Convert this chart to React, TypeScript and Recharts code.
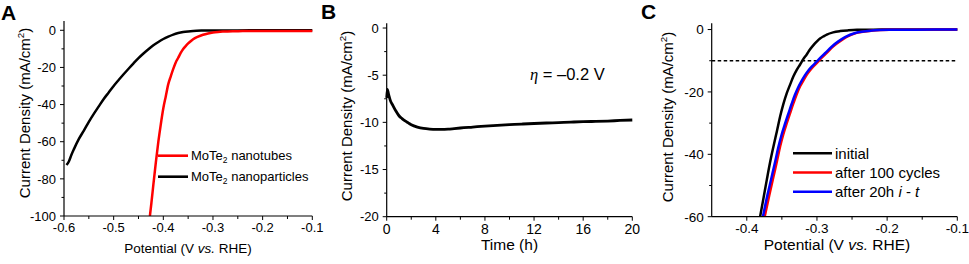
import { LineChart, Line, XAxis, YAxis, ReferenceLine } from "recharts";

const FONT = "'Liberation Sans', Arial, Helvetica, sans-serif";

// --- A: polarization curves, MoTe2 nanotubes vs nanoparticles
const tubeV = [-0.427, -0.424, -0.42, -0.415, -0.41, -0.405, -0.4, -0.395, -0.39, -0.385, -0.38, -0.375, -0.37, -0.365, -0.36, -0.355, -0.35, -0.345, -0.34, -0.33, -0.32, -0.31, -0.3, -0.29, -0.28, -0.26, -0.24, -0.2, -0.15, -0.1];
const tubeJ = [-100, -93, -83, -71, -60, -50.5, -42, -35.5, -29, -24.8, -20.8, -17.3, -14.8, -12.2, -10.1, -8.5, -7.1, -5.9, -4.8, -3.4, -2.4, -1.7, -1.2, -0.9, -0.7, -0.5, -0.45, -0.4, -0.4, -0.4];
const particleV = [-0.595, -0.59, -0.585, -0.58, -0.57, -0.56, -0.55, -0.54, -0.53, -0.52, -0.51, -0.5, -0.49, -0.48, -0.47, -0.46, -0.45, -0.44, -0.43, -0.42, -0.41, -0.4, -0.39, -0.38, -0.37, -0.36, -0.35, -0.34, -0.32, -0.3, -0.25, -0.2, -0.15, -0.1];
const particleJ = [-72.5, -70.5, -67, -64, -58.5, -54, -49.3, -45, -41, -37, -33.5, -30, -26.8, -23.7, -20.7, -17.8, -15, -12.5, -10.2, -8.1, -6.3, -4.7, -3.4, -2.3, -1.5, -0.95, -0.6, -0.35, -0.15, -0.08, -0.05, -0.04, -0.03, -0.03];
const potTicksA = [-0.6, -0.5, -0.4, -0.3, -0.2, -0.1];
const potMinorA = [-0.55, -0.45, -0.35, -0.25, -0.15];
const curTicksA = [-100, -80, -60, -40, -20, 0];
const curMinorA = [-90, -70, -50, -30, -10];

// --- B: chronoamperometry at -0.2 V
const timeH = [0, 0.05, 0.15, 0.3, 0.5, 0.75, 1, 1.25, 1.5, 1.75, 2, 2.5, 3, 3.5, 4, 4.5, 5, 5.5, 6, 7, 8, 9, 10, 11, 12, 13, 14, 15, 16, 17, 18, 19, 20];
const stabilityJ = [-7.4, -6.5, -7.0, -7.7, -8.2, -8.8, -9.3, -9.6, -9.85, -10.05, -10.25, -10.5, -10.65, -10.72, -10.75, -10.75, -10.72, -10.66, -10.6, -10.5, -10.4, -10.32, -10.25, -10.18, -10.12, -10.07, -10.02, -9.97, -9.93, -9.9, -9.86, -9.8, -9.75];
const timeTicks = [0, 4, 8, 12, 16, 20];
const timeMinor = [2, 6, 10, 14, 18];
const curTicksB = [-20, -15, -10, -5, 0];
const curMinorB = [-17.5, -12.5, -7.5, -2.5];

// --- C: durability
const initialV = [-0.381, -0.376, -0.3715, -0.367, -0.362, -0.357, -0.3525, -0.348, -0.343, -0.338, -0.3335, -0.329, -0.324, -0.3195, -0.3146, -0.31, -0.305, -0.3, -0.2956, -0.29, -0.286, -0.277, -0.267, -0.255, -0.243, -0.22, -0.19, -0.15, -0.1];
const initialJ = [-60, -53.8, -48.2, -42.8, -37.5, -32.5, -27.9, -24, -20.4, -17.5, -15, -13, -11.2, -9.5, -8, -6.4, -5, -3.8, -2.9, -2.1, -1.6, -0.9, -0.5, -0.25, -0.1, -0.03, 0, 0, 0];
const cyclesV = [-0.3745, -0.368, -0.362, -0.357, -0.3525, -0.348, -0.343, -0.338, -0.3335, -0.329, -0.324, -0.319, -0.3146, -0.31, -0.305, -0.3, -0.2956, -0.286, -0.2767, -0.267, -0.2577, -0.2434, -0.2197, -0.196, -0.16, -0.1];
const cyclesJ = [-60, -53.2, -47.2, -42.2, -37.5, -33.6, -30, -26.6, -23.6, -20.8, -18.2, -16.2, -14.5, -13.1, -11.8, -10.7, -9.6, -7.5, -5.4, -3.75, -2.4, -1.07, -0.32, -0.1, -0.03, 0];
const itV = [-0.377, -0.3705, -0.3645, -0.3595, -0.355, -0.3505, -0.3455, -0.3405, -0.336, -0.3315, -0.3265, -0.3215, -0.317, -0.3125, -0.3075, -0.3025, -0.298, -0.2885, -0.279, -0.2695, -0.26, -0.2455, -0.2215, -0.197, -0.16, -0.1];
const itJ = [-60, -53, -47.2, -42.3, -37.7, -33.8, -30.2, -26.8, -23.8, -21, -18.4, -16.3, -14.6, -13.2, -11.9, -10.8, -9.7, -7.6, -5.5, -3.8, -2.45, -1.1, -0.33, -0.1, -0.03, 0];
const potTicksC = [-0.4, -0.3, -0.2, -0.1];
const potMinorC = [-0.35, -0.25, -0.15];
const curTicksC = [-60, -40, -20, 0];
const curMinorC = [-50, -30, -10];

const pairs = (xs: number[], ys: number[]) => xs.map((x, i) => ({ x, y: ys[i] }));

const makeTick = (side: "left" | "bottom", major: number[], fontSize: number) =>
  (props: any) => {
    const { x, y, payload } = props;
    const v = payload.value;
    const isMajor = major.some((m) => Math.abs(m - v) < 1e-9);
    if (side === "bottom") {
      return (
        <g>
          <line x1={x} x2={x} y1={y} y2={y + (isMajor ? 4 : 3)} stroke="#000" />
          {isMajor && (
            <text x={x} y={y + 7} dy="0.72em" textAnchor="middle" fontSize={fontSize} fontFamily={FONT} fill="#000">
              {String(v)}
            </text>
          )}
        </g>
      );
    }
    return (
      <g>
        <line x1={x} x2={x - (isMajor ? 4 : 2.5)} y1={y} y2={y} stroke="#000" />
        {isMajor && (
          <text x={x - 8} y={y} dy="0.36em" textAnchor="end" fontSize={fontSize} fontFamily={FONT} fill="#000">
            {String(v)}
          </text>
        )}
      </g>
    );
  };

const axisLine = { stroke: "#000", strokeWidth: 1.2 };

function YTitle({ x, y, size }: { x: number; y: number; size: number }) {
  return (
    <text x={x} y={y} transform={`rotate(-90 ${x} ${y})`} textAnchor="middle" fontSize={size} fontFamily={FONT} fill="#000">
      Current Density (mA/cm<tspan dy={-size * 0.4} fontSize={size * 0.65}>2</tspan>
      <tspan dy={size * 0.4}>)</tspan>
    </text>
  );
}

function PotentialTitle({ x, y, size }: { x: number; y: number; size: number }) {
  return (
    <text x={x} y={y} textAnchor="middle" fontSize={size} fontFamily={FONT} fill="#000">
      Potential (V <tspan fontStyle="italic">vs.</tspan> RHE)
    </text>
  );
}

function PanelLetter({ x, y, letter }: { x: number; y: number; letter: string }) {
  return (
    <text x={x} y={y} fontSize={21} fontWeight="bold" fontFamily={FONT} fill="#000">
      {letter}
    </text>
  );
}

const legendA = [
  { name: "nanotubes", color: "#ff0000" },
  { name: "nanoparticles", color: "#000000" },
];
const legendC = [
  { name: "initial", color: "#000000" },
  { name: "after 100 cycles", color: "#ff0000" },
  { name: "after 20h", color: "#0000ff" },
];

function PanelA() {
  const xd = [-0.6, -0.1];
  const yd = [-100, 5];
  return (
    <LineChart width={330} height={264} margin={{ top: 21, right: 17.7, bottom: 18, left: 4 }}>
      <XAxis dataKey="x" type="number" domain={xd} ticks={[...potTicksA, ...potMinorA]} interval={0}
        tickSize={0} tickMargin={0} tickLine={false} axisLine={axisLine} height={30} tick={makeTick("bottom", potTicksA, 13)} />
      <YAxis type="number" domain={yd} ticks={[...curTicksA, ...curMinorA]} interval={0} allowDataOverflow
        tickSize={0} tickMargin={0} tickLine={false} axisLine={axisLine} width={60} tick={makeTick("left", curTicksA, 13)} />
      <XAxis xAxisId="top" orientation="top" type="number" domain={xd} height={0} tick={false} tickLine={false} axisLine={axisLine} />
      <YAxis yAxisId="right" orientation="right" type="number" domain={yd} width={0} tick={false} tickLine={false} axisLine={axisLine} />
      <Line data={pairs(particleV, particleJ)} dataKey="y" type="monotone" stroke="#000" strokeWidth={2.5} dot={false} isAnimationActive={false} />
      <Line data={pairs(tubeV, tubeJ)} dataKey="y" type="monotone" stroke="#ff0000" strokeWidth={2.5} dot={false} isAnimationActive={false} />
      {legendA.map((item, i) => (
        <g key={item.name}>
          <line x1={158} x2={188} y1={155.7 + i * 21} y2={155.7 + i * 21} stroke={item.color} strokeWidth={2.6} />
          <text x={191} y={155.7 + i * 21} dy="0.36em" fontSize={13} fontFamily={FONT} fill="#000">
            MoTe<tspan dy={3} fontSize={8.5}>2</tspan><tspan dy={-3}> {item.name}</tspan>
          </text>
        </g>
      ))}
      <YTitle x={30} y={113} size={15} />
      <PotentialTitle x={188} y={253} size={13.5} />
      <PanelLetter x={1} y={20} letter="A" />
    </LineChart>
  );
}

function PanelB() {
  const xd = [0, 20];
  const yd = [-20, 0.5];
  return (
    <LineChart width={330} height={264} margin={{ top: 23.3, right: 17.7, bottom: 17.3, left: 6.7 }}>
      <XAxis dataKey="x" type="number" domain={xd} ticks={[...timeTicks, ...timeMinor]} interval={0}
        tickSize={0} tickMargin={0} tickLine={false} axisLine={axisLine} height={30} tick={makeTick("bottom", timeTicks, 14)} />
      <YAxis type="number" domain={yd} ticks={[...curTicksB, ...curMinorB]} interval={0}
        tickSize={0} tickMargin={0} tickLine={false} axisLine={axisLine} width={60} tick={makeTick("left", curTicksB, 13)} />
      <XAxis xAxisId="top" orientation="top" type="number" domain={xd} height={0} tick={false} tickLine={false} axisLine={axisLine} />
      <YAxis yAxisId="right" orientation="right" type="number" domain={yd} width={0} tick={false} tickLine={false} axisLine={axisLine} />
      <Line data={pairs(timeH, stabilityJ)} dataKey="y" type="monotone" stroke="#000" strokeWidth={2.8} dot={false} isAnimationActive={false} />
      <text x={210} y={80} fontSize={16.5} fontFamily={FONT} fill="#000">
        <tspan fontStyle="italic" fontFamily="'Liberation Serif', serif">η</tspan> = –0.2 V
      </text>
      <YTitle x={32} y={116} size={15} />
      <text x={189.5} y={250} textAnchor="middle" fontSize={15.5} fontFamily={FONT} fill="#000">Time (h)</text>
      <PanelLetter x={1} y={18.5} letter="B" />
    </LineChart>
  );
}

function PanelC() {
  const xd = [-0.45, -0.1];
  const yd = [-60, 2];
  return (
    <LineChart width={329} height={264} margin={{ top: 23.3, right: 11.7, bottom: 17.3, left: 11.7 }}>
      <XAxis dataKey="x" type="number" domain={xd} ticks={[...potTicksC, ...potMinorC]} interval={0}
        tickSize={0} tickMargin={0} tickLine={false} axisLine={axisLine} height={30} tick={makeTick("bottom", potTicksC, 13.5)} />
      <YAxis type="number" domain={yd} ticks={[...curTicksC, ...curMinorC]} interval={0}
        tickSize={0} tickMargin={0} tickLine={false} axisLine={axisLine} width={60} tick={makeTick("left", curTicksC, 13.5)} />
      <XAxis xAxisId="top" orientation="top" type="number" domain={xd} height={0} tick={false} tickLine={false} axisLine={axisLine} />
      <YAxis yAxisId="right" orientation="right" type="number" domain={yd} width={0} tick={false} tickLine={false} axisLine={axisLine} />
      <ReferenceLine y={-10} stroke="#000" strokeWidth={1.3} strokeDasharray="3.5 2.5" />
      <Line data={pairs(initialV, initialJ)} dataKey="y" type="monotone" stroke="#000" strokeWidth={2.5} dot={false} isAnimationActive={false} />
      <Line data={pairs(cyclesV, cyclesJ)} dataKey="y" type="monotone" stroke="#ff0000" strokeWidth={2.5} dot={false} isAnimationActive={false} />
      <Line data={pairs(itV, itJ)} dataKey="y" type="monotone" stroke="#0000ff" strokeWidth={2.5} dot={false} isAnimationActive={false} />
      {legendC.map((item, i) => (
        <g key={item.name}>
          <line x1={153} x2={192} y1={153.3 + i * 19.2} y2={153.3 + i * 19.2} stroke={item.color} strokeWidth={2.6} />
          <text x={195} y={153.3 + i * 19.2} dy="0.36em" fontSize={15} fontFamily={FONT} fill="#000">
            {item.name}
            {i === 2 && (
              <>
                {" "}<tspan fontStyle="italic">i</tspan> - <tspan fontStyle="italic">t</tspan>
              </>
            )}
          </text>
        </g>
      ))}
      <YTitle x={33} y={117} size={15} />
      <PotentialTitle x={197} y={250} size={15.5} />
      <PanelLetter x={1} y={18.5} letter="C" />
    </LineChart>
  );
}

export default function App() {
  return (
    <div style={{ position: "absolute", left: 0, top: 0, width: 969, height: 264, background: "#fff", overflow: "hidden" }}>
      <div style={{ position: "absolute", left: 0, top: 0 }}><PanelA /></div>
      <div style={{ position: "absolute", left: 320, top: 0 }}><PanelB /></div>
      <div style={{ position: "absolute", left: 640, top: 0 }}><PanelC /></div>
    </div>
  );
}
